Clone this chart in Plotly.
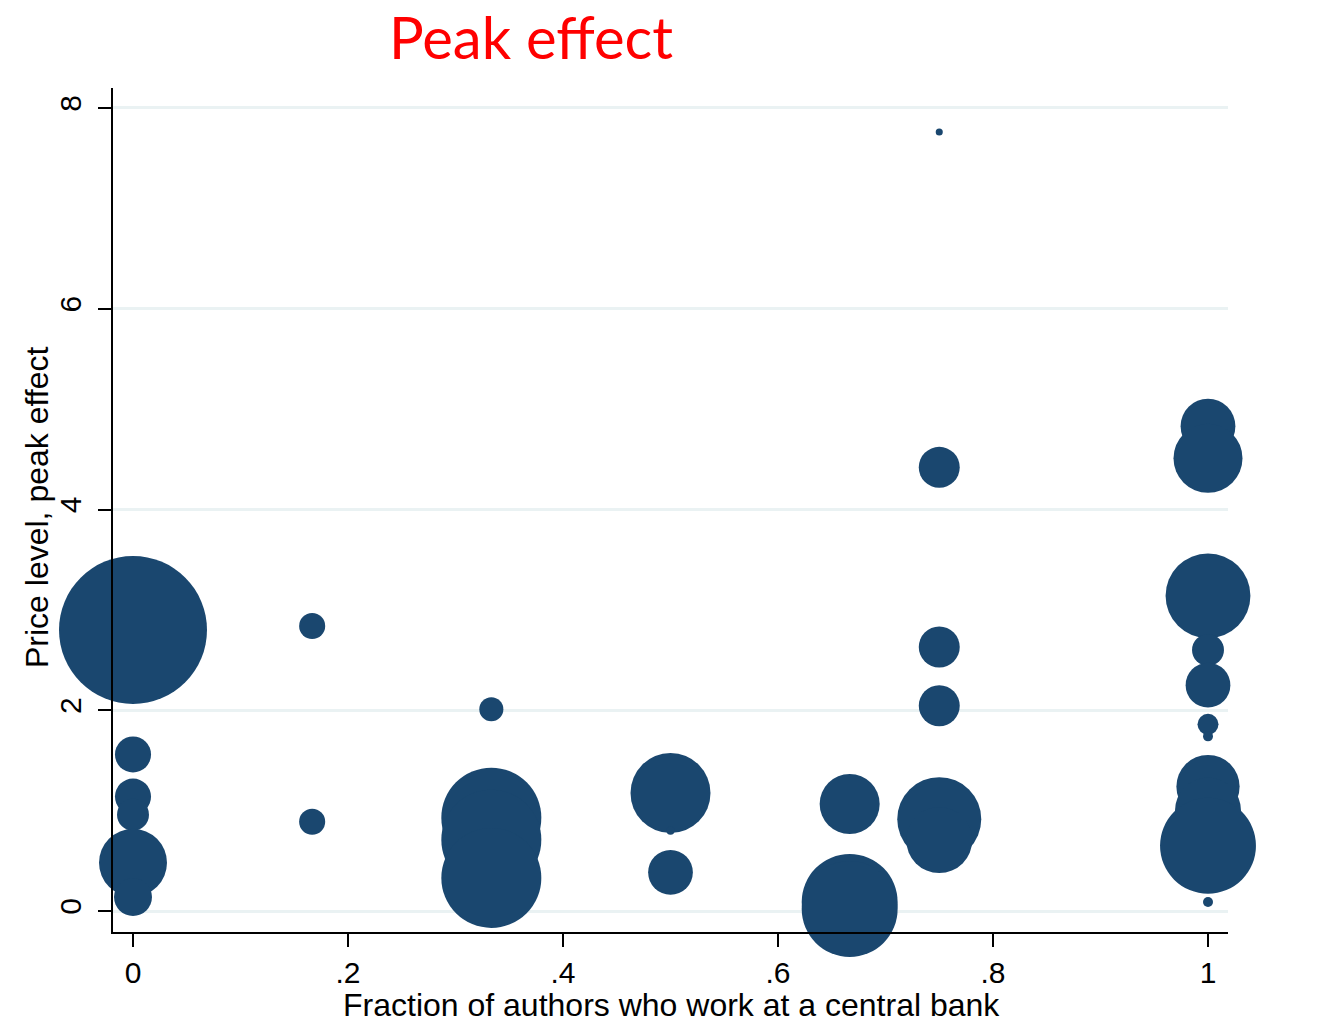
import plotly.graph_objects as go

# Fraction of authors who work at a central bank
frac = [0, 0, 0, 0, 0, 0,
        1/6, 1/6,
        1/3, 1/3, 1/3, 1/3,
        0.5, 0.5, 0.5,
        2/3, 2/3, 2/3,
        0.75, 0.75, 0.75, 0.75, 0.75, 0.75,
        1, 1, 1, 1, 1, 1, 1, 1, 1, 1, 1]
# Price level, peak effect
peak = [2.80, 1.56, 1.14, 0.96, 0.48, 0.14,
        2.84, 0.89,
        2.01, 0.93, 0.71, 0.33,
        1.175, 0.80, 0.385,
        1.066, 0.09, 0.02,
        7.76, 4.42, 2.63, 2.045, 0.915, 0.707,
        4.83, 4.51, 3.14, 2.60, 2.25, 1.86, 1.74, 1.24, 1.00, 0.65, 0.09]
# Analytic weights (bubble area)
weight = [21.9, 1.3, 1.3, 1.02, 4.62, 1.44,
          0.68, 0.68,
          0.58, 10.0, 10.0, 10.0,
          6.4, 0.064, 2.0,
          3.6, 9.2, 9.2,
          0.05, 1.68, 1.68, 1.68, 7.06, 4.36,
          3.0, 4.76, 7.2, 1.02, 2.0, 0.44, 0.1, 4.0, 4.36, 9.2, 0.1]

x_ticks = [0, 0.2, 0.4, 0.6, 0.8, 1]
x_ticktext = ["0", ".2", ".4", ".6", ".8", "1"]
y_ticks = [0, 2, 4, 6, 8]
y_ticktext = ["0", "2", "4", "6", "8"]

NAVY = "#1a476f"
FONT = "Liberation Sans, Arial, sans-serif"

# page body has an 8px margin, so the figure is drawn 8px smaller
W, H = 1309, 1015
ML, MR, MT, MB = 105, 89, 80, 91
PW, PH = W - ML - MR, H - MT - MB

fig = go.Figure()
fig.add_trace(go.Scatter(
    x=frac, y=peak, mode="markers",
    marker=dict(size=weight, sizemode="area", sizeref=0.002,
                color=NAVY, line=dict(width=0), opacity=1),
    cliponaxis=False, showlegend=False,
    hovertemplate="x=%{x:.2f}<br>y=%{y:.2f}<extra></extra>",
))

fig.update_layout(
    width=W, height=H,
    margin=dict(l=ML, r=MR, t=MT, b=MB),
    paper_bgcolor="white", plot_bgcolor="white",
    font=dict(family=FONT, color="black", size=31),
    title=dict(text="Peak effect", x=(531 - 8) / W, xanchor="center",
               y=1 - (39 - 8) / H, yanchor="middle", yref="container",
               font=dict(family="Lato, sans-serif", size=58, color="#ff0000")),
    xaxis=dict(
        range=[-0.0186, 1.0186], tickvals=x_ticks, ticktext=x_ticktext,
        showline=True, linecolor="black", linewidth=2,
        ticks="outside", ticklen=13, tickwidth=2, tickcolor="black",
        showgrid=False, zeroline=False, ticklabelstandoff=0,
        tickfont=dict(size=30, family=FONT),
    ),
    yaxis=dict(
        range=[-0.209, 8.199], tickvals=y_ticks, ticktext=y_ticktext,
        showline=True, linecolor="black", linewidth=2,
        ticks="outside", ticklen=13, tickwidth=2, tickcolor="black",
        showgrid=True, gridcolor="#eaf2f3", gridwidth=3, zeroline=False,
        tickangle=-90, ticklabelstandoff=5, tickfont=dict(size=30, family=FONT),
    ),
    annotations=[
        dict(text="Fraction of authors who work at a central bank",
             xref="paper", yref="paper",
             x=(671 - 8 - ML) / PW, y=(MT + PH - (1005 - 8)) / PH,
             xanchor="center", yanchor="middle", showarrow=False,
             font=dict(size=32, family=FONT, color="black")),
        dict(text="Price level, peak effect", textangle=-90,
             xref="paper", yref="paper",
             x=(37 - 8 - ML) / PW, y=(MT + PH - (508 - 8)) / PH,
             xanchor="center", yanchor="middle", showarrow=False,
             font=dict(size=32, family=FONT, color="black")),
    ],
)

fig.write_html("out.html")
